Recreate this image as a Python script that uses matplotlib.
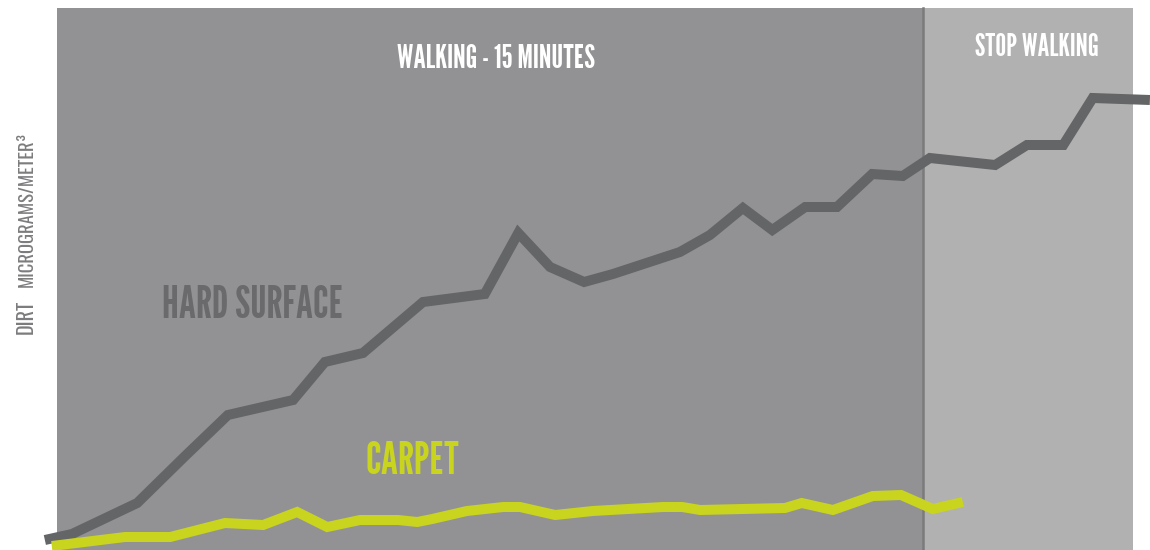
import matplotlib
matplotlib.use("Agg")
import matplotlib.pyplot as plt

# ── Data (minutes since start, dirt level in arbitrary units) ──
hard_minutes = [-0.21, 0.26, 1.39, 2.22, 2.96, 4.09, 4.64, 5.30, 6.34, 7.41,
                7.99, 8.54, 9.13, 9.63, 10.79, 11.31, 11.88, 12.39, 12.96, 13.51,
                14.12, 14.65, 15.12, 16.25, 16.80, 17.43, 17.94, 18.93]
hard_dirt = [8, 14, 45, 92, 133, 148, 186, 195, 246, 254,
             315, 281, 266, 274, 296, 313, 340, 318, 341, 341,
             374, 372, 390, 383, 403, 403, 450, 448]

carpet_minutes = [-0.09, 1.18, 1.96, 2.91, 3.57, 4.16, 4.68, 5.25, 5.91, 6.24,
                  6.50, 7.10, 7.73, 8.02, 8.63, 9.28, 10.50, 10.83, 11.14, 12.61,
                  12.90, 13.44, 14.13, 14.62, 15.17, 15.69]
carpet_dirt = [2, 11, 11, 25, 23, 36, 21, 28, 28, 26,
               29, 37, 41, 41, 33, 37, 41, 41, 38, 40,
               45, 38, 52, 53, 39, 46]

walk_end = 15.0
stop_end = 18.64

# ── Style ──
TITLE_FONT = ["League Gothic", "Bebas Neue", "Oswald", "DejaVu Sans"]
AXIS_FONT = ["Oswald", "League Gothic", "DejaVu Sans"]
plt.rcParams["font.family"] = TITLE_FONT

WALK_BG = "#929294"
STOP_BG = "#b1b1b1"
HARD_COLOR = "#646567"
CARPET_COLOR = "#c9d41f"

fig = plt.figure(figsize=(11.5, 5.5), dpi=100)
ax = fig.add_axes([0, 0, 1, 1])
ax.set_xlim(-0.987, 18.932)
ax.set_ylim(-2, 548)
ax.axis("off")

top_frac = 1 - 8 / 550
ax.axvspan(0, walk_end, ymin=0, ymax=top_frac, color=WALK_BG, lw=0, zorder=0)
ax.axvspan(walk_end, stop_end, ymin=0, ymax=top_frac, color=STOP_BG, lw=0, zorder=0)
ax.axvline(walk_end, ymin=0, ymax=top_frac, color="#7b7b7c", lw=1.8, zorder=1)

ax.plot(hard_minutes, hard_dirt, color=HARD_COLOR, lw=7.2,
        solid_joinstyle="miter", solid_capstyle="butt", zorder=3)
ax.plot(carpet_minutes, carpet_dirt, color=CARPET_COLOR, lw=7.2,
        solid_joinstyle="miter", solid_capstyle="butt", zorder=4)

ax.text(7.6, 489, "WALKING - 15 MINUTES", color="white", fontsize=23,
        ha="center", va="center")
ax.text(16.97, 501, "STOP WALKING", color="white", fontsize=22,
        ha="center", va="center")
ax.text(1.82, 242, "HARD SURFACE", color="#6a6a6c", fontsize=32,
        ha="left", va="center")
ax.text(5.35, 86, "CARPET", color=CARPET_COLOR, fontsize=32,
        ha="left", va="center")

# y label: "DIRT" larger, units smaller, rotated with a shared baseline
fig.text(33 / 1150, 1 - 334 / 550, "DIRT", color="#7c7c7e", fontsize=14.5,
         family=AXIS_FONT, rotation=90, rotation_mode="anchor",
         ha="left", va="baseline")
fig.text(33 / 1150, 1 - 287 / 550, "MICROGRAMS/METER³", color="#7c7c7e",
         fontsize=13.5, family=AXIS_FONT, rotation=90, rotation_mode="anchor",
         ha="left", va="baseline")

fig.savefig("out.png", dpi=100)
